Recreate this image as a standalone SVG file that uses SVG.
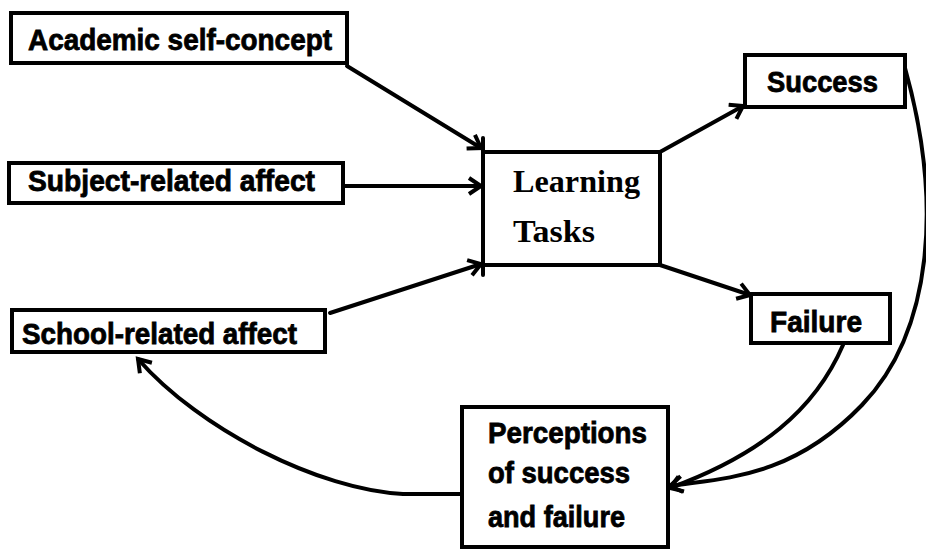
<svg xmlns="http://www.w3.org/2000/svg" width="926" height="552" viewBox="0 0 926 552">
<style>
.box{fill:#fff;stroke:#000;stroke-width:4}
.lbl{font-family:"Liberation Sans Narrow","Liberation Sans",Arial,sans-serif;font-weight:bold;font-size:30px;fill:#000;stroke:#000;stroke-width:0.8}
.ser{font-family:"Liberation Serif","Times New Roman",serif;font-weight:bold;font-size:32px;fill:#000}
.con{fill:none;stroke:#000;stroke-width:4;stroke-linecap:round}
</style>
<defs>
<marker id="ah" viewBox="0 0 20 20" refX="15" refY="10" markerWidth="20" markerHeight="20" markerUnits="userSpaceOnUse" orient="auto">
<path d="M3,2 L15,10 L3,18" fill="none" stroke="#000" stroke-width="4" stroke-linejoin="miter"/>
</marker>
</defs>
<rect width="926" height="552" fill="#fff"/>
<g id="connectors">
<line class="con" x1="347" y1="66" x2="481" y2="148" marker-end="url(#ah)"/>
<line class="con" x1="343" y1="186" x2="481" y2="186" marker-end="url(#ah)"/>
<line class="con" x1="330" y1="313" x2="481" y2="264" marker-end="url(#ah)"/>
<line class="con" x1="660" y1="152" x2="743" y2="106" marker-end="url(#ah)"/>
<line class="con" x1="660" y1="265" x2="750" y2="295" marker-end="url(#ah)"/>
<path class="con" d="M905,68 C942,200 934,330 862,405 S720,478 670,486" marker-end="url(#ah)"/>
<path class="con" d="M843,345 C815,410 760,455 670,488" marker-end="url(#ah)"/>
<path class="con" d="M462,494 L403,494 C320,490 200,430 138,359" marker-end="url(#ah)"/>
</g>
<g id="academic">
<rect class="box" x="11" y="13" width="336" height="50"/>
<text class="lbl" x="28" y="50" textLength="304" lengthAdjust="spacingAndGlyphs">Academic self-concept</text>
</g>
<g id="subject">
<rect class="box" x="9" y="163" width="334" height="40"/>
<text class="lbl" x="28" y="191" textLength="287" lengthAdjust="spacingAndGlyphs">Subject-related affect</text>
</g>
<g id="school">
<rect class="box" x="12" y="310" width="313" height="42"/>
<text class="lbl" x="22" y="344" textLength="275" lengthAdjust="spacingAndGlyphs">School-related affect</text>
</g>
<g id="learning">
<rect class="box" x="483" y="152" width="177" height="113"/>
<line class="con" x1="483" y1="138" x2="483" y2="275"/>
<text class="ser" x="513" y="192" textLength="127" lengthAdjust="spacingAndGlyphs">Learning</text>
<text class="ser" x="513" y="242" textLength="82" lengthAdjust="spacingAndGlyphs">Tasks</text>
</g>
<g id="success">
<rect class="box" x="745" y="55" width="160" height="52"/>
<text class="lbl" x="767" y="92" textLength="111" lengthAdjust="spacingAndGlyphs">Success</text>
</g>
<g id="failure">
<rect class="box" x="751" y="294" width="139" height="49"/>
<text class="lbl" x="770" y="332" textLength="92" lengthAdjust="spacingAndGlyphs">Failure</text>
</g>
<g id="perceptions">
<rect class="box" x="462" y="407" width="206" height="140"/>
<text class="lbl" x="488" y="443" textLength="159" lengthAdjust="spacingAndGlyphs">Perceptions</text>
<text class="lbl" x="488" y="483" textLength="142" lengthAdjust="spacingAndGlyphs">of success</text>
<text class="lbl" x="488" y="527" textLength="137" lengthAdjust="spacingAndGlyphs">and failure</text>
</g>
</svg>
